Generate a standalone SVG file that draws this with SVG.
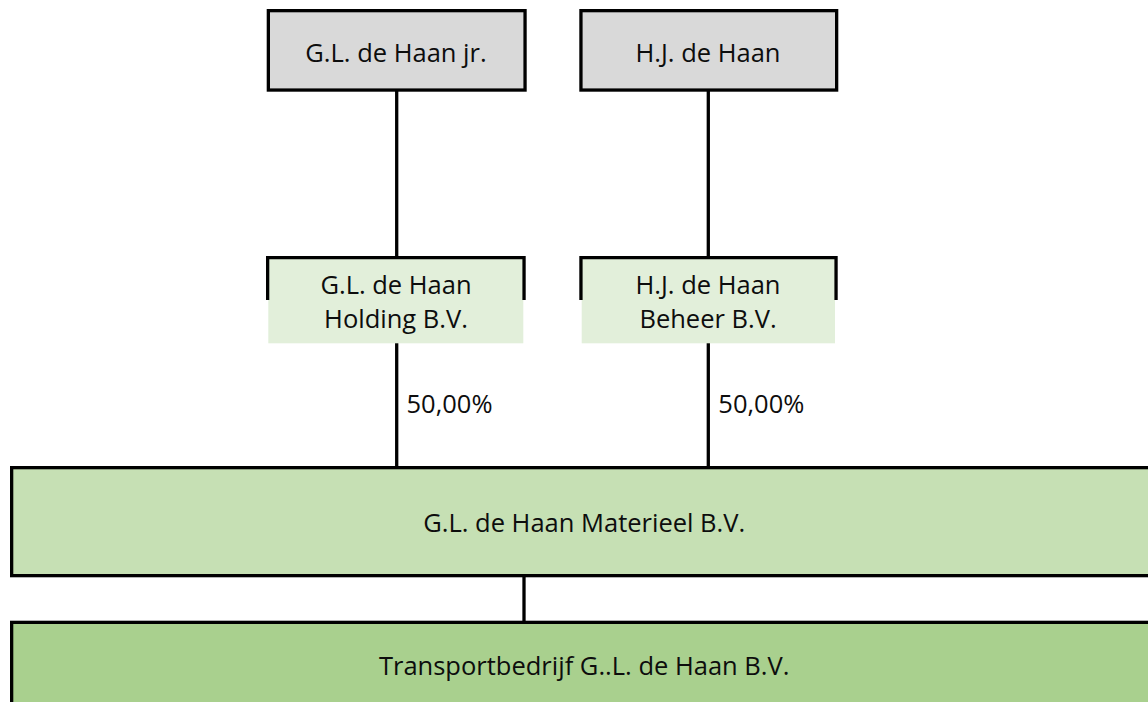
<svg xmlns="http://www.w3.org/2000/svg" width="1148" height="702" viewBox="0 0 1148 702">
<style>
.t{font-family:"Open Sans","Liberation Sans",sans-serif;font-size:25.5px;fill:#0d0d0d;text-anchor:middle}
.p{font-family:"Open Sans","Liberation Sans",sans-serif;font-size:25.5px;fill:#0d0d0d}
.b{stroke:#000;stroke-width:3.3;fill:none}
.c{stroke:#000;stroke-width:3.3;fill:none}
</style>
<rect width="1148" height="702" fill="#fff"/>
<g id="connectors">
<line class="c" x1="396.7" y1="91" x2="396.7" y2="257"/>
<line class="c" x1="708.3" y1="91" x2="708.3" y2="257"/>
<line class="c" x1="396.7" y1="343" x2="396.7" y2="467"/>
<line class="c" x1="708.3" y1="343" x2="708.3" y2="467"/>
<line class="c" x1="524" y1="576" x2="524" y2="622"/>
<text class="p" x="406.5" y="413">50,00%</text>
<text class="p" x="718.3" y="413">50,00%</text>
</g>
<g id="gl-jr">
<rect x="268.35" y="10.65" width="256.7" height="79.4" fill="#d9d9d9" class="b" style="fill:#d9d9d9"/>
<text class="t" x="396" y="61.7">G.L. de Haan jr.</text>
</g>
<g id="hj">
<rect x="580.95" y="10.65" width="255.7" height="79.4" class="b" style="fill:#d9d9d9"/>
<text class="t" x="708" y="61.7">H.J. de Haan</text>
</g>
<g id="gl-holding">
<rect x="268.3" y="258" width="255" height="85.3" fill="#e2efda"/>
<path class="b" d="M267.65,300 V257.65 H524.05 V300"/>
<text class="t" x="396" y="294.3">G.L. de Haan</text>
<text class="t" x="396" y="328.3">Holding B.V.</text>
</g>
<g id="hj-beheer">
<rect x="581.7" y="258" width="253.3" height="85.3" fill="#e2efda"/>
<path class="b" d="M580.95,300 V257.65 H836.05 V300"/>
<text class="t" x="708" y="294.3">H.J. de Haan</text>
<text class="t" x="708" y="328.3">Beheer B.V.</text>
</g>
<g id="materieel">
<rect x="11.65" y="467.65" width="1150" height="108" class="b" style="fill:#c6e0b4"/>
<text class="t" x="584.2" y="531.7">G.L. de Haan Materieel B.V.</text>
</g>
<g id="transport">
<rect x="11.65" y="622.35" width="1150" height="100" class="b" style="fill:#a9d08e"/>
<text class="t" x="584.2" y="675">Transportbedrijf G..L. de Haan B.V.</text>
</g>
</svg>
